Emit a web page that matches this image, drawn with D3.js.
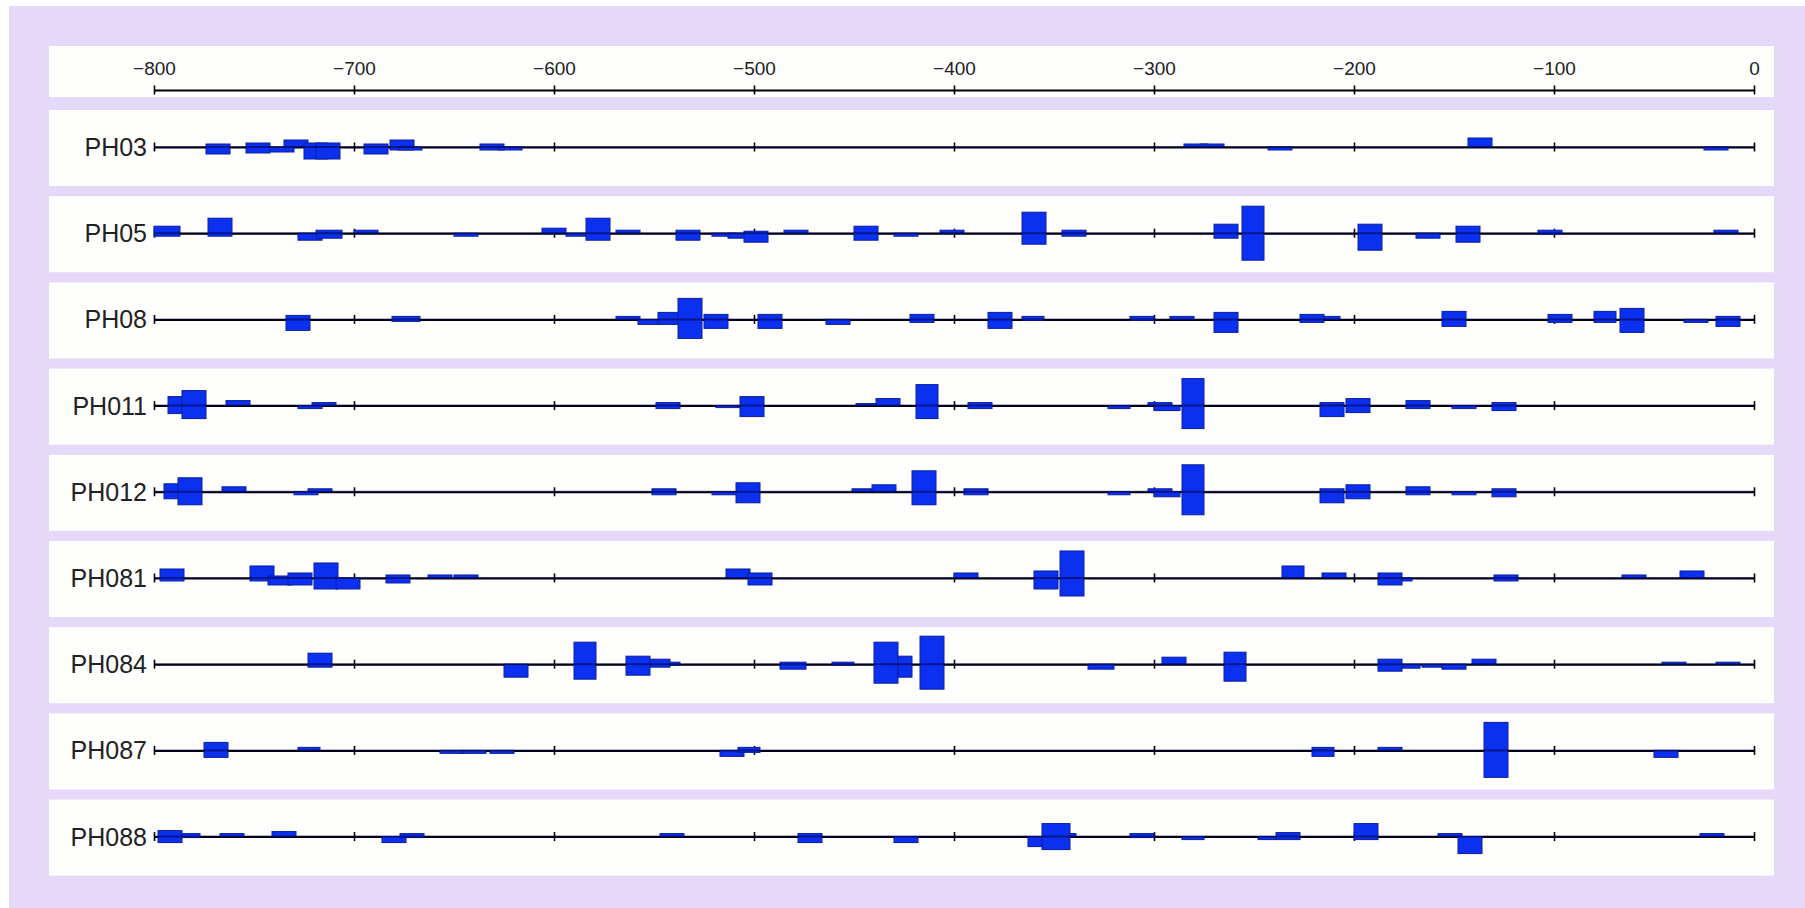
<!DOCTYPE html>
<html>
<head>
<meta charset="utf-8">
<script src="https://cdn.jsdelivr.net/npm/d3@7"></script>
<style>
  body { margin: 0; background: #ffffff; }
  text { font-family: "Liberation Sans", Arial, sans-serif; }
</style>
</head>
<body>
<div id="chart"></div>
<script>
// row names, top to bottom
var rowNames = ["PH03", "PH05", "PH08", "PH011", "PH012", "PH081", "PH084", "PH087", "PH088"];

// tick values of the position axis
var tickValues = [-800, -700, -600, -500, -400, -300, -200, -100, 0];

// sites per row: [start, end, score above, score below]
var ph03 = [[-774,-762,3,-7],[-754,-742,4,-6],[-742,-730,0,-5],[-735,-723,7,0],[-725,-713,4,-12],
  [-719,-707,4,-12],[-695,-683,3,-7],[-682,-670,7,-3],[-678,-666,0,-3],[-637,-625,3,-3],
  [-628,-616,0,-3],[-285,-273,3,0],[-277,-265,3,0],[-243,-231,0,-3],[-143,-131,9,0],[-25,-13,0,-3]];

var ph05 = [[-800,-787,7,-3],[-773,-761,15,-3],[-728,-716,0,-7],[-719,-706,3,-5],[-700,-688,3,0],
  [-650,-638,0,-3],[-606,-594,5,0],[-594,-584,0,-3],[-584,-572,15,-7],[-569,-557,3,0],
  [-539,-527,3,-7],[-521,-509,0,-3],[-513,-501,0,-5],[-505,-493,2,-9],[-485,-473,3,0],
  [-450,-438,7,-7],[-430,-418,0,-3],[-407,-395,3,0],[-366,-354,21,-11],[-346,-334,3,-3],
  [-270,-258,9,-5],[-256,-245,27,-27],[-198,-186,9,-17],[-169,-157,0,-5],[-149,-137,7,-9],
  [-108,-96,3,-1],[-20,-8,3,0]];

var ph08 = [[-734,-722,4,-11],[-681,-667,3,-2],[-569,-557,3,0],[-558,-546,0,-5],[-548,-536,7,-5],
  [-538,-526,21,-19],[-525,-513,5,-9],[-498,-486,5,-9],[-464,-452,0,-5],[-422,-410,5,-3],
  [-383,-371,7,-9],[-366,-355,3,-1],[-312,-300,3,-1],[-292,-280,3,0],[-270,-258,7,-13],
  [-227,-215,5,-3],[-215,-207,3,0],[-156,-144,8,-7],[-103,-91,5,-3],[-80,-69,8,-3],
  [-67,-55,11,-13],[-35,-23,0,-3],[-19,-7,3,-7]];

var ph011 = [[-793,-785,9,-8],[-786,-774,15,-13],[-764,-752,5,0],[-728,-716,0,-3],[-721,-709,3,0],
  [-549,-537,3,-3],[-519,-507,0,-2],[-507,-495,9,-11],[-449,-438,2,0],[-439,-427,7,0],
  [-419,-408,21,-13],[-393,-381,3,-3],[-323,-312,0,-3],[-303,-291,3,0],[-300,-287,0,-5],
  [-286,-275,27,-23],[-217,-205,3,-11],[-204,-192,7,-7],[-174,-162,5,-3],[-151,-139,0,-3],
  [-131,-119,3,-5]];

var ph012 = [[-795,-787,8,-7],[-788,-776,14,-13],[-766,-754,5,0],[-730,-718,0,-3],[-723,-711,3,0],
  [-551,-539,3,-3],[-521,-509,0,-3],[-509,-497,9,-11],[-451,-441,3,0],[-441,-429,7,0],
  [-421,-409,21,-13],[-395,-383,3,-3],[-323,-312,0,-3],[-303,-291,3,0],[-300,-287,0,-5],
  [-286,-275,27,-23],[-217,-205,3,-11],[-204,-192,7,-7],[-174,-162,5,-3],[-151,-139,0,-3],
  [-131,-119,3,-5]];

var ph081 = [[-797,-785,9,-3],[-752,-740,12,-3],[-743,-731,2,-7],[-733,-721,5,-7],[-720,-708,15,-11],
  [-709,-697,0,-11],[-684,-672,3,-5],[-663,-651,3,0],[-650,-638,3,0],[-514,-502,9,0],
  [-503,-491,5,-7],[-400,-388,5,0],[-360,-348,7,-11],[-347,-335,27,-18],[-236,-225,12,0],
  [-216,-204,5,0],[-188,-176,5,-7],[-176,-171,0,-3],[-130,-118,3,-3],[-66,-54,3,0],[-37,-25,7,0]];

var ph084 = [[-723,-711,11,-3],[-625,-613,0,-13],[-590,-579,22,-15],[-564,-552,8,-11],[-552,-542,5,-3],
  [-542,-537,2,-1],[-487,-474,2,-5],[-461,-450,2,-1],[-440,-428,22,-19],[-428,-421,8,-13],
  [-417,-405,28,-25],[-333,-320,0,-5],[-296,-284,7,0],[-265,-254,12,-17],[-188,-176,5,-7],
  [-176,-167,0,-4],[-166,-156,0,-3],[-156,-144,0,-5],[-141,-129,5,0],[-46,-34,2,0],[-19,-7,2,0]];

var ph087 = [[-775,-763,8,-7],[-728,-717,3,0],[-657,-645,0,-3],[-646,-634,0,-3],[-632,-620,0,-3],
  [-517,-505,0,-6],[-508,-497,3,-2],[-221,-210,3,-6],[-188,-176,3,0],[-135,-123,28,-27],[-50,-38,0,-7]];

var ph088 = [[-798,-786,6,-6],[-786,-777,3,-1],[-767,-755,3,0],[-741,-729,5,0],[-686,-674,0,-6],
  [-677,-665,3,-1],[-547,-535,3,0],[-478,-466,3,-6],[-430,-418,0,-6],[-363,-351,0,-10],
  [-356,-342,13,-13],[-342,-339,3,0],[-312,-300,3,-1],[-286,-275,0,-3],[-248,-239,0,-3],
  [-239,-227,4,-3],[-200,-188,13,-3],[-158,-146,3,0],[-148,-136,0,-17],[-27,-15,3,0]];

var rowSites = [ph03, ph05, ph08, ph011, ph012, ph081, ph084, ph087, ph088];

var svgWidth = 1805;
var svgHeight = 908;

var svg = d3.select("#chart")
  .append("svg")
  .attr("width", svgWidth)
  .attr("height", svgHeight);

// lavender frame
svg.append("rect")
  .attr("x", 9)
  .attr("y", 6)
  .attr("width", svgWidth - 9)
  .attr("height", svgHeight - 6)
  .attr("fill", "#e4d9f9");

var panelLeft = 49;
var panelRight = 1774;

// position scale
var x = d3.scaleLinear()
  .domain([-800, 0])
  .range([154, 1754]);

// rows
var rowBand = d3.scaleBand()
  .domain(rowNames)
  .range([110, 110 + 9 * 86.2 - 10.2])
  .paddingInner(0.118);

// score scale, relative to the row axis line
var y = d3.scaleLinear()
  .domain([-30, 30])
  .range([30, -30]);

var lineOffset = 37;

// top axis panel
svg.append("rect")
  .attr("x", panelLeft)
  .attr("y", 46)
  .attr("width", panelRight - panelLeft)
  .attr("height", 51)
  .attr("fill", "#fefefd");

var topAxis = svg.append("g")
  .attr("transform", "translate(0, 90)")
  .call(d3.axisTop(x).tickValues(tickValues).tickSizeOuter(0).tickSize(0));

topAxis.select(".domain")
  .attr("stroke", "#000")
  .attr("stroke-width", 2);

topAxis.selectAll(".tick line")
  .attr("y1", -4.5)
  .attr("y2", 4.5)
  .attr("stroke", "#000")
  .attr("stroke-width", 1.6);

topAxis.selectAll(".tick text")
  .attr("y", -15)
  .attr("fill", "#222")
  .style("font-size", "19px")
  .style("font-family", "'Liberation Sans', Arial, sans-serif");

// one group per row
rowNames.forEach(function(name, i) {
  var top = rowBand(name);

  svg.append("rect")
    .attr("x", panelLeft)
    .attr("y", top)
    .attr("width", panelRight - panelLeft)
    .attr("height", rowBand.bandwidth())
    .attr("fill", "#fefefd");

  var g = svg.append("g")
    .attr("transform", `translate(0, ${top + lineOffset})`);

  var rowAxis = g.append("g")
    .call(d3.axisBottom(x).tickValues(tickValues).tickSizeOuter(0).tickSize(0).tickFormat(""));

  rowAxis.select(".domain")
    .attr("stroke", "#000")
    .attr("stroke-width", 2);

  rowAxis.selectAll(".tick line")
    .attr("y1", -4.5)
    .attr("y2", 4.5)
    .attr("stroke", "#000")
    .attr("stroke-width", 1.6);

  // site boxes
  g.selectAll(".site")
    .data(rowSites[i])
    .enter()
    .append("rect")
    .classed("site", true)
    .attr("x", d => x(d[0]))
    .attr("width", d => x(d[1]) - x(d[0]))
    .attr("y", d => y(d[2]))
    .attr("height", d => Math.max(1, y(d[3]) - y(d[2])))
    .attr("fill", "#0b30f0")
    .attr("stroke", "#0a1e9e")
    .attr("stroke-width", 1);

  // line seen through the boxes
  g.append("line")
    .attr("x1", x(-800))
    .attr("x2", x(0))
    .attr("y1", 0)
    .attr("y2", 0)
    .attr("stroke", "#000040")
    .attr("stroke-opacity", 0.55)
    .attr("stroke-width", 2);

  g.append("text")
    .attr("x", 147)
    .attr("y", 0)
    .attr("dy", "0.36em")
    .attr("text-anchor", "end")
    .attr("fill", "#222")
    .style("font-size", "25px")
    .text(name);
});
</script>
</body>
</html>
